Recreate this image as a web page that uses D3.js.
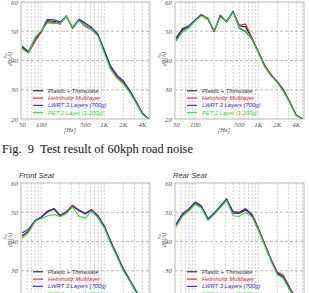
<!DOCTYPE html>
<html>
<head>
<meta charset="utf-8">
<script src="https://cdn.jsdelivr.net/npm/d3@7"></script>
<style>
  html, body { margin: 0; padding: 0; background: #fff; }
  svg { display: block; }
</style>
</head>
<body>
<svg id="chart" width="309" height="293"></svg>
<script>
// 1/3 octave band centre frequencies [Hz]
var freqs = [50, 63, 80, 100, 125, 160, 200, 250, 315, 400, 500, 630, 800,
             1000, 1250, 1600, 2000, 2500, 3150, 4000, 5000];

var xTicks = [50, 100, 500, 1000, 2000, 4000],
    xTickLabels = ["50", "100", "500", "1K", "2K", "4K"],
    yTicks = [20, 30, 40, 50, 60],
    gridFreqs = [60, 70, 80, 90, 100, 200, 300, 400, 500, 600, 700, 800, 900,
                 1000, 2000, 3000, 4000, 5000];

var legendLabels = ["Plastic + Thinsulate", "Helmholtz Multilayer",
                    "LWRT 3 Layers (700g)", "PET 2 Layer (1,200g)"];

// top left
var tlPlastic   = [44.6, 42.8, 47.3, 49.8, 53.6, 53.4, 52.8, 55.2, 51.0, 53.9, 52.4, 51.0, 48.6, 43.0, 37.8, 34.4, 32.6, 29.7, 25.9, 21.9, 20.0];
var tlHelmholtz = [44.2, 42.6, 46.5, 49.6, 53.2, 53.0, 52.4, 55.3, 51.2, 53.6, 51.6, 50.6, 48.4, 43.2, 37.6, 34.2, 32.4, 29.8, 26.1, 22.0, 20.0];
var tlLwrt      = [44.9, 43.0, 47.6, 50.0, 54.0, 53.9, 53.2, 55.0, 51.3, 54.2, 52.8, 51.3, 48.9, 43.6, 38.3, 35.0, 33.1, 30.0, 26.2, 22.1, 20.1];
var tlPet       = [44.0, 42.5, 47.8, 50.2, 52.8, 52.6, 52.9, 55.0, 51.4, 53.5, 52.2, 50.8, 48.2, 42.6, 37.0, 33.8, 32.0, 29.2, 25.6, 21.6, 20.0];

// top right
var trPlastic   = [47.5, 50.3, 51.6, 53.8, 55.6, 54.2, 50.0, 55.3, 53.3, 56.7, 51.9, 51.5, 47.4, 43.0, 38.4, 35.0, 32.7, 29.9, 25.8, 21.3, 20.1];
var trHelmholtz = [47.9, 50.8, 51.4, 53.7, 55.4, 54.0, 49.8, 55.6, 53.1, 56.6, 52.0, 52.5, 47.6, 43.1, 38.6, 35.2, 32.8, 30.1, 26.0, 21.4, 20.1];
var trLwrt      = [47.2, 50.9, 51.9, 53.9, 55.7, 54.4, 50.1, 55.0, 53.4, 56.8, 51.0, 49.8, 47.2, 42.8, 38.2, 34.8, 32.5, 29.7, 25.7, 21.2, 20.0];
var trPet       = [46.6, 49.6, 51.2, 53.5, 55.2, 54.5, 50.3, 54.8, 53.5, 56.4, 51.2, 50.2, 47.0, 42.7, 38.0, 34.7, 32.4, 29.5, 25.5, 21.0, 20.0];

// bottom left (front seat)
var blPlastic   = [42.0, 43.5, 47.0, 48.2, 50.2, 51.0, 48.8, 50.0, 52.2, 50.6, 49.4, 50.8, 48.4, 45.0, 40.0, 34.9, 30.4, 27.0, 23.0, 19.5, 18.5];
var blHelmholtz = [41.8, 43.3, 46.8, 48.4, 50.4, 51.2, 48.6, 50.2, 52.4, 50.4, 49.6, 51.0, 48.8, 45.4, 40.4, 35.3, 30.8, 27.2, 23.3, 19.8, 18.7];
var blLwrt      = [42.9, 44.2, 47.2, 48.3, 50.0, 51.3, 49.0, 50.1, 52.0, 50.8, 49.6, 50.6, 48.6, 45.2, 40.2, 35.1, 30.6, 27.1, 23.2, 19.7, 18.6];
var blPet       = [41.2, 43.0, 46.9, 47.8, 48.7, 49.2, 48.5, 49.5, 51.8, 48.6, 48.0, 50.4, 48.0, 44.6, 39.6, 34.5, 30.0, 26.6, 22.7, 19.3, 18.3];

// bottom right (rear seat)
var brPlastic   = [45.8, 49.2, 50.8, 53.2, 52.0, 47.6, 49.5, 51.8, 54.4, 49.8, 49.6, 50.8, 49.0, 44.4, 39.4, 33.7, 29.2, 28.0, 24.0, 20.0, 19.0];
var brHelmholtz = [45.5, 49.0, 51.0, 53.0, 51.8, 47.4, 49.8, 51.6, 54.2, 49.6, 49.8, 51.2, 49.3, 44.6, 39.6, 33.9, 29.6, 28.4, 24.3, 20.2, 19.1];
var brLwrt      = [45.9, 49.5, 51.2, 53.5, 52.3, 47.8, 49.7, 52.1, 54.6, 50.2, 50.0, 51.2, 48.8, 44.2, 39.2, 33.5, 29.0, 27.7, 23.8, 19.8, 18.8];
var brPet       = [45.0, 48.6, 50.5, 52.7, 51.5, 47.2, 49.2, 51.5, 54.0, 48.8, 48.6, 50.0, 48.4, 43.9, 38.9, 33.2, 28.7, 27.3, 23.4, 19.5, 18.6];

var colors = ["#222222", "#e8202a", "#2a2ae0", "#30e030"],
    textColors = ["#333333", "#e8202a", "#2a2ae0", "#30e030"];

var svg = d3.select("#chart");

// one panel = frame, grid, axes labels, four curves and legend
function panel(x0, y0, title, clipId, series) {
    var w = 129, h = 117,
        x = d3.scaleLog().domain([48, 5300]).range([0, w]),
        y = d3.scaleLinear().domain([20, 60]).range([h, 0]),
        g = svg.append("g").attr("transform", "translate(" + x0 + "," + y0 + ")");

    g.append("clipPath").attr("id", clipId)
      .append("rect").attr("width", w).attr("height", h);

    // grid
    g.selectAll(".vg").data(gridFreqs.filter(f => x(f) < w - 1)).enter()
      .append("line")
        .attr("x1", d => x(d)).attr("x2", d => x(d))
        .attr("y1", 0).attr("y2", h)
        .attr("stroke", "#b8b8b8").attr("stroke-width", 0.7)
        .attr("stroke-dasharray", "2,1.5");
    g.selectAll(".hg").data([30, 40, 50]).enter()
      .append("line")
        .attr("x1", 0).attr("x2", w)
        .attr("y1", d => y(d)).attr("y2", d => y(d))
        .attr("stroke", "#a0a0a0").attr("stroke-width", 0.7)
        .attr("stroke-dasharray", "3,2");

    g.append("rect").attr("width", w).attr("height", h)
      .attr("fill", "none").attr("stroke", "#a8a8a8").attr("stroke-width", 0.8);

    // tick labels
    g.selectAll(".yt").data(yTicks).enter()
      .append("text")
        .attr("x", -3).attr("y", d => y(d) + 2.5)
        .attr("text-anchor", "end")
        .attr("font-family", "Liberation Serif").attr("font-style", "italic")
        .attr("font-size", 7).attr("fill", "#555")
        .text(d => d);
    g.selectAll(".xt").data(xTicks).enter()
      .append("text")
        .attr("x", d => x(d)).attr("y", h + 7.5)
        .attr("text-anchor", "middle")
        .attr("font-family", "Liberation Serif").attr("font-style", "italic")
        .attr("font-size", 7).attr("fill", "#555")
        .text((d, i) => xTickLabels[i]);
    g.append("text")
        .attr("x", 49).attr("y", h + 12.5)
        .attr("text-anchor", "middle")
        .attr("font-family", "Liberation Serif").attr("font-style", "italic")
        .attr("font-size", 6.5).attr("fill", "#555")
        .text("[Hz]");

    // y axis title
    var yl = g.append("g").attr("transform", "translate(-9," + 57 + ") rotate(-90)");
    yl.append("text").attr("text-anchor", "middle").attr("y", 0)
        .attr("font-family", "Liberation Serif").attr("font-style", "italic")
        .attr("font-size", 6).attr("fill", "#555").text("dB(A)");
    yl.append("text").attr("text-anchor", "middle").attr("x", 3).attr("y", -5)
        .attr("font-family", "Liberation Serif").attr("font-style", "italic")
        .attr("font-size", 5).attr("fill", "#555").text("Pa");

    g.append("text")
        .attr("x", -2).attr("y", -5)
        .attr("font-family", "Liberation Sans").attr("font-style", "italic")
        .attr("font-size", 7.5).attr("fill", "#333")
        .text(title);

    // curves
    var line = d3.line().x((d, i) => x(freqs[i])).y(d => y(d));
    g.append("g").attr("clip-path", "url(#" + clipId + ")")
      .selectAll("path").data(series).enter()
      .append("path")
        .attr("d", d => line(d))
        .attr("fill", "none")
        .attr("stroke", (d, i) => colors[i])
        .attr("stroke-width", 1.1)
        .attr("stroke-linejoin", "round");

    // legend
    var lg = g.selectAll(".lg").data(legendLabels).enter()
      .append("g")
        .attr("transform", (d, i) => "translate(12," + (88.8 + i * 7.3) + ")");
    lg.append("line")
        .attr("x1", 0).attr("x2", 10)
        .attr("stroke", (d, i) => colors[i]).attr("stroke-width", 1.1);
    lg.append("text")
        .attr("x", 15).attr("y", 2)
        .attr("font-family", "Liberation Sans").attr("font-style", "italic")
        .attr("font-size", 5.8)
        .attr("fill", (d, i) => textColors[i])
        .text(d => d);
}

panel(21, 2, "Front Seat", "c1", [tlPlastic, tlHelmholtz, tlLwrt, tlPet]);
panel(175, 2, "Rear Seat", "c2", [trPlastic, trHelmholtz, trLwrt, trPet]);
panel(21, 183, "Front Seat", "c3", [blPlastic, blHelmholtz, blLwrt, blPet]);
panel(175, 183, "Rear Seat", "c4", [brPlastic, brHelmholtz, brLwrt, brPet]);

svg.append("text")
    .attr("x", 2).attr("y", 152.5)
    .attr("font-family", "Liberation Serif")
    .attr("font-size", 12.4).attr("fill", "#111")
    .attr("xml:space", "preserve")
    .style("white-space", "pre")
    .text("Fig.  9  Test result of 60kph road noise");
</script>
</body>
</html>
